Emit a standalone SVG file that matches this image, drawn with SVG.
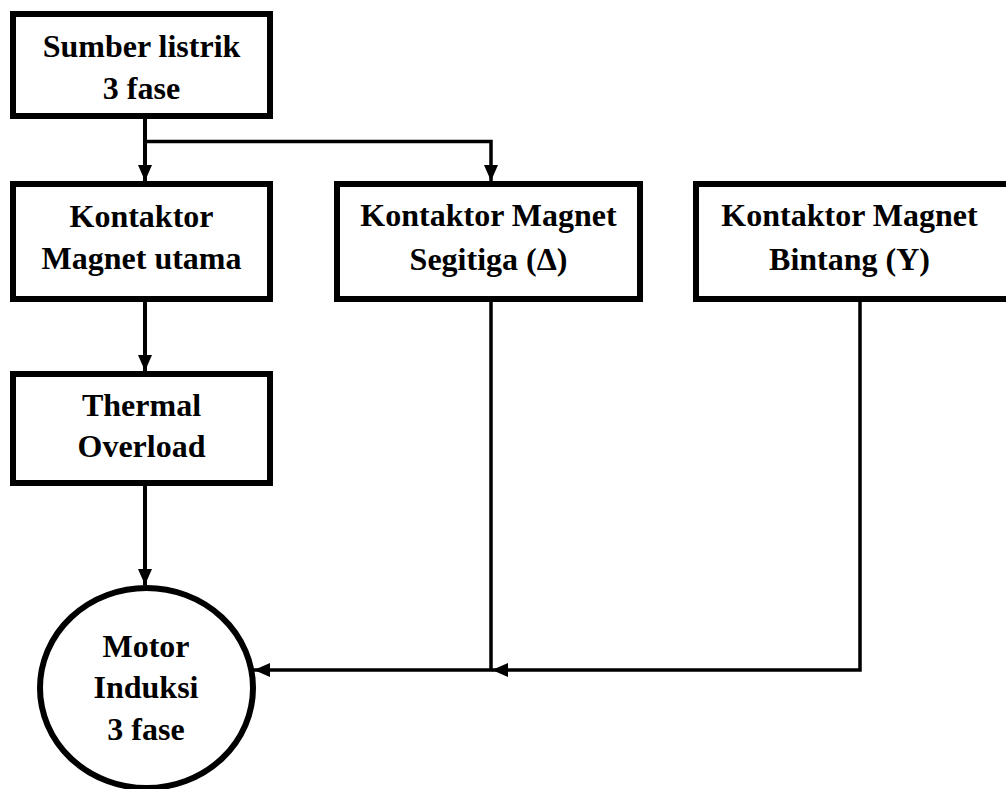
<svg xmlns="http://www.w3.org/2000/svg" width="1006" height="789" viewBox="0 0 1006 789">
<defs>
<marker id="arr" markerUnits="userSpaceOnUse" markerWidth="16" markerHeight="14" refX="16" refY="7" orient="auto" overflow="visible">
<path d="M0,0 L16,7 L0,14 z" fill="#000"/>
</marker>
<style>
.box{fill:#fff;stroke:#000;stroke-width:6}
.t{font-family:"Liberation Serif","Times New Roman",serif;font-weight:bold;font-size:32px;fill:#000;text-anchor:middle}
.c{fill:none;stroke:#000;stroke-width:3.5}
.cv{fill:none;stroke:#000;stroke-width:4}
</style>
</defs>
<rect width="1006" height="789" fill="#fff"/>
<g id="connectors">
<path class="cv" d="M145,116 V181" marker-end="url(#arr)"/>
<path class="c" d="M145,141.5 H491 V181" marker-end="url(#arr)"/>
<path class="cv" d="M145,299 V371" marker-end="url(#arr)"/>
<path class="cv" d="M145,486 V585" marker-end="url(#arr)"/>
<path class="c" d="M491,299 V670 H254" marker-end="url(#arr)"/>
<path class="c" d="M860,299 V670 H492" marker-end="url(#arr)"/>
</g>
<g id="sumber">
<rect class="box" x="13" y="14" width="257" height="102"/>
<text class="t" x="141.5" y="57">Sumber listrik</text>
<text class="t" x="141.5" y="99">3 fase</text>
</g>
<g id="kontaktor-utama">
<rect class="box" x="13" y="184" width="257" height="115"/>
<text class="t" x="141.5" y="227">Kontaktor</text>
<text class="t" x="141.5" y="269">Magnet utama</text>
</g>
<g id="kontaktor-segitiga">
<rect class="box" x="337" y="184" width="303" height="115"/>
<text class="t" x="488.5" y="226">Kontaktor Magnet</text>
<text class="t" x="488.5" y="270">Segitiga (Δ)</text>
</g>
<g id="kontaktor-bintang">
<rect class="box" x="696" y="184" width="320" height="115"/>
<text class="t" x="849.5" y="226">Kontaktor Magnet</text>
<text class="t" x="849.5" y="270">Bintang (Y)</text>
</g>
<g id="thermal">
<rect class="box" x="13" y="374" width="257" height="109"/>
<text class="t" x="141.5" y="416">Thermal</text>
<text class="t" x="141.5" y="457">Overload</text>
</g>
<g id="motor">
<ellipse class="box" cx="146.5" cy="688" rx="106.5" ry="100"/>
<text class="t" x="146" y="657">Motor</text>
<text class="t" x="146" y="698">Induksi</text>
<text class="t" x="146" y="740">3 fase</text>
</g>
</svg>
